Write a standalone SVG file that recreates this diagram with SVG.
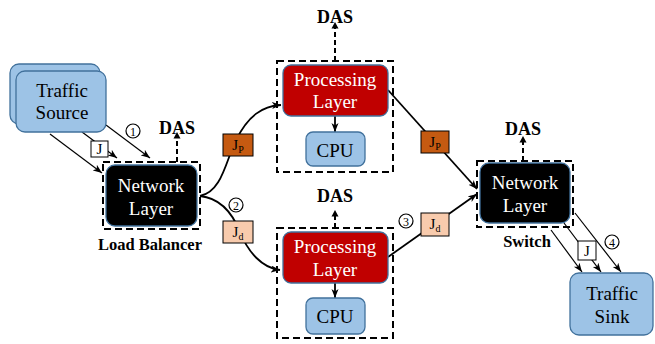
<svg xmlns="http://www.w3.org/2000/svg" width="655" height="344" viewBox="0 0 655 344" font-family="'Liberation Serif', 'DejaVu Serif', 'Times New Roman', Times, serif">
  <defs>
    <marker id="arrow" markerUnits="userSpaceOnUse" markerWidth="10" markerHeight="8" refX="9" refY="3.5" orient="auto">
      <path d="M0,0 L9,3.5 L0,7 L2.5,3.5 z" fill="#000"/>
    </marker>
    <marker id="tip" markerUnits="userSpaceOnUse" markerWidth="8" markerHeight="8" refX="4" refY="6" orient="0">
      <path d="M0.5,6.5 L4,0 L7.5,6.5 z" fill="#000"/>
    </marker>
  </defs>
  <style>
    text { font-family: 'Liberation Serif', 'DejaVu Serif', 'Times New Roman', Times, serif; }
    .lbl { font-size: 19px; text-anchor: middle; }
    .w { fill: #fff; }
    .das { font-size: 18px; font-weight: bold; text-anchor: middle; }
    .cap { font-size: 16.5px; font-weight: bold; text-anchor: middle; }
    .blue { fill: #9dc3e6; stroke: #41719c; stroke-width: 1.3; }
    .red { fill: #c00000; stroke: #41719c; stroke-width: 1.3; }
    .blk { fill: #000; stroke: #41719c; stroke-width: 1.3; }
    .dash { fill: none; stroke: #000; stroke-width: 2; stroke-dasharray: 7 4; }
    .up { fill: none; stroke: #000; stroke-width: 2; stroke-dasharray: 5 3; }
    .arr { fill: none; stroke: #000; stroke-width: 1.8; }
    .thin { fill: none; stroke: #000; stroke-width: 1.2; }
    .jbox { stroke: #000; stroke-width: 1; }
    .jt { font-size: 15px; text-anchor: middle; }
    .num { fill: #fff; stroke: #000; stroke-width: 1.2; }
    .numt { font-size: 12px; text-anchor: middle; }
  </style>

  <!-- connectors -->
  <g id="connectors">
    <!-- source to load balancer -->
    <line class="thin" x1="50" y1="134" x2="102" y2="173" marker-end="url(#arrow)"/>
    <line class="thin" x1="82" y1="132" x2="117" y2="158" marker-end="url(#arrow)"/>
    <line class="thin" x1="106" y1="125" x2="150" y2="158" marker-end="url(#arrow)"/>
    <!-- load balancer to processing layers -->
    <path class="arr" d="M200,196 C222,192 226,160 236,140 C248,116 262,106 281,105" marker-end="url(#arrow)"/>
    <path class="arr" d="M200,196 C220,198 232,212 240,232 C248,252 262,268 280,270" marker-end="url(#arrow)"/>
    <!-- processing layers to switch -->
    <line class="arr" x1="388" y1="90" x2="477" y2="189" marker-end="url(#arrow)"/>
    <line class="arr" x1="388" y1="257" x2="477" y2="194" marker-end="url(#arrow)"/>
    <!-- switch to sink -->
    <line class="thin" x1="551" y1="230" x2="582" y2="272" marker-end="url(#arrow)"/>
    <line class="thin" x1="564" y1="223" x2="601" y2="272" marker-end="url(#arrow)"/>
    <line class="thin" x1="575" y1="213" x2="621" y2="272" marker-end="url(#arrow)"/>
    <!-- processing to cpu -->
    <line class="arr" x1="335" y1="116" x2="335" y2="132" marker-end="url(#arrow)"/>
    <line class="arr" x1="335" y1="283" x2="335" y2="298" marker-end="url(#arrow)"/>
    <!-- DAS outputs -->
    <line class="up" x1="177" y1="162" x2="177" y2="138" marker-end="url(#tip)"/>
    <line class="up" x1="335" y1="61" x2="335" y2="28" marker-end="url(#tip)"/>
    <line class="up" x1="335" y1="228" x2="335" y2="216" marker-end="url(#tip)"/>
    <line class="up" x1="523" y1="161" x2="523" y2="142" marker-end="url(#tip)"/>
  </g>

  <!-- traffic source -->
  <g id="traffic-source">
    <rect class="blue" x="10" y="64" width="90" height="60" rx="9"/>
    <rect class="blue" x="16" y="71" width="90" height="61" rx="9"/>
    <text class="lbl" x="62" y="97">Traffic</text>
    <text class="lbl" x="62" y="119">Source</text>
  </g>

  <!-- load balancer -->
  <g id="load-balancer">
    <rect class="dash" x="103" y="162" width="97" height="67"/>
    <rect class="blk" x="106" y="165" width="91" height="61" rx="9"/>
    <text class="lbl w" x="151" y="192">Network</text>
    <text class="lbl w" x="151" y="215">Layer</text>
    <text class="das" x="177" y="134">DAS</text>
    <text class="cap" x="150" y="250">Load Balancer</text>
  </g>

  <!-- upper processing unit -->
  <g id="processing-top">
    <rect class="dash" x="277" y="61" width="116" height="111"/>
    <rect class="red" x="283" y="65" width="105" height="51" rx="8"/>
    <text class="lbl w" x="335" y="86">Processing</text>
    <text class="lbl w" x="335" y="108">Layer</text>
    <rect class="blue" x="306" y="132" width="59" height="34" rx="7"/>
    <text class="lbl" x="335" y="157">CPU</text>
    <text class="das" x="335" y="23">DAS</text>
  </g>

  <!-- lower processing unit -->
  <g id="processing-bottom">
    <rect class="dash" x="277" y="228" width="116" height="110"/>
    <rect class="red" x="283" y="232" width="105" height="51" rx="8"/>
    <text class="lbl w" x="335" y="253">Processing</text>
    <text class="lbl w" x="335" y="276">Layer</text>
    <rect class="blue" x="306" y="298" width="59" height="36" rx="7"/>
    <text class="lbl" x="335" y="323">CPU</text>
    <text class="das" x="335" y="202">DAS</text>
  </g>

  <!-- switch -->
  <g id="switch">
    <rect class="dash" x="477" y="161" width="96" height="66"/>
    <rect class="blk" x="480" y="163" width="90" height="60" rx="9"/>
    <text class="lbl w" x="525" y="189">Network</text>
    <text class="lbl w" x="525" y="212">Layer</text>
    <text class="das" x="523" y="135">DAS</text>
    <text class="cap" x="527" y="247">Switch</text>
  </g>

  <!-- traffic sink -->
  <g id="traffic-sink">
    <rect class="blue" x="570" y="273" width="83" height="62" rx="9"/>
    <text class="lbl" x="612" y="300">Traffic</text>
    <text class="lbl" x="612" y="323">Sink</text>
  </g>

  <!-- job labels -->
  <g id="job-labels">
    <rect class="jbox" x="91" y="141" width="17" height="16" fill="#fff"/>
    <text class="jt" x="99.5" y="154">J</text>
    <rect class="jbox" x="223" y="134" width="30" height="22" fill="#c55a11"/>
    <text class="jt" x="238" y="150">J<tspan font-size="10" dy="3">P</tspan></text>
    <rect class="jbox" x="223" y="221" width="30" height="22" fill="#f8cbad"/>
    <text class="jt" x="238" y="237">J<tspan font-size="10" dy="3">d</tspan></text>
    <rect class="jbox" x="421" y="131" width="28" height="22" fill="#c55a11"/>
    <text class="jt" x="435" y="147">J<tspan font-size="10" dy="3">P</tspan></text>
    <rect class="jbox" x="421" y="213" width="28" height="23" fill="#f8cbad"/>
    <text class="jt" x="435" y="229">J<tspan font-size="10" dy="3">d</tspan></text>
    <rect class="jbox" x="578" y="241" width="18" height="19" fill="#fff"/>
    <text class="jt" x="587" y="256">J</text>
  </g>

  <!-- step numbers -->
  <g id="steps">
    <circle class="num" cx="133" cy="131" r="7"/>
    <text class="numt" x="133" y="135.5">1</text>
    <circle class="num" cx="236" cy="205" r="7"/>
    <text class="numt" x="236" y="209.5">2</text>
    <circle class="num" cx="406" cy="221" r="7"/>
    <text class="numt" x="406" y="225.5">3</text>
    <circle class="num" cx="612" cy="242" r="7"/>
    <text class="numt" x="612" y="246.5">4</text>
  </g>
</svg>
